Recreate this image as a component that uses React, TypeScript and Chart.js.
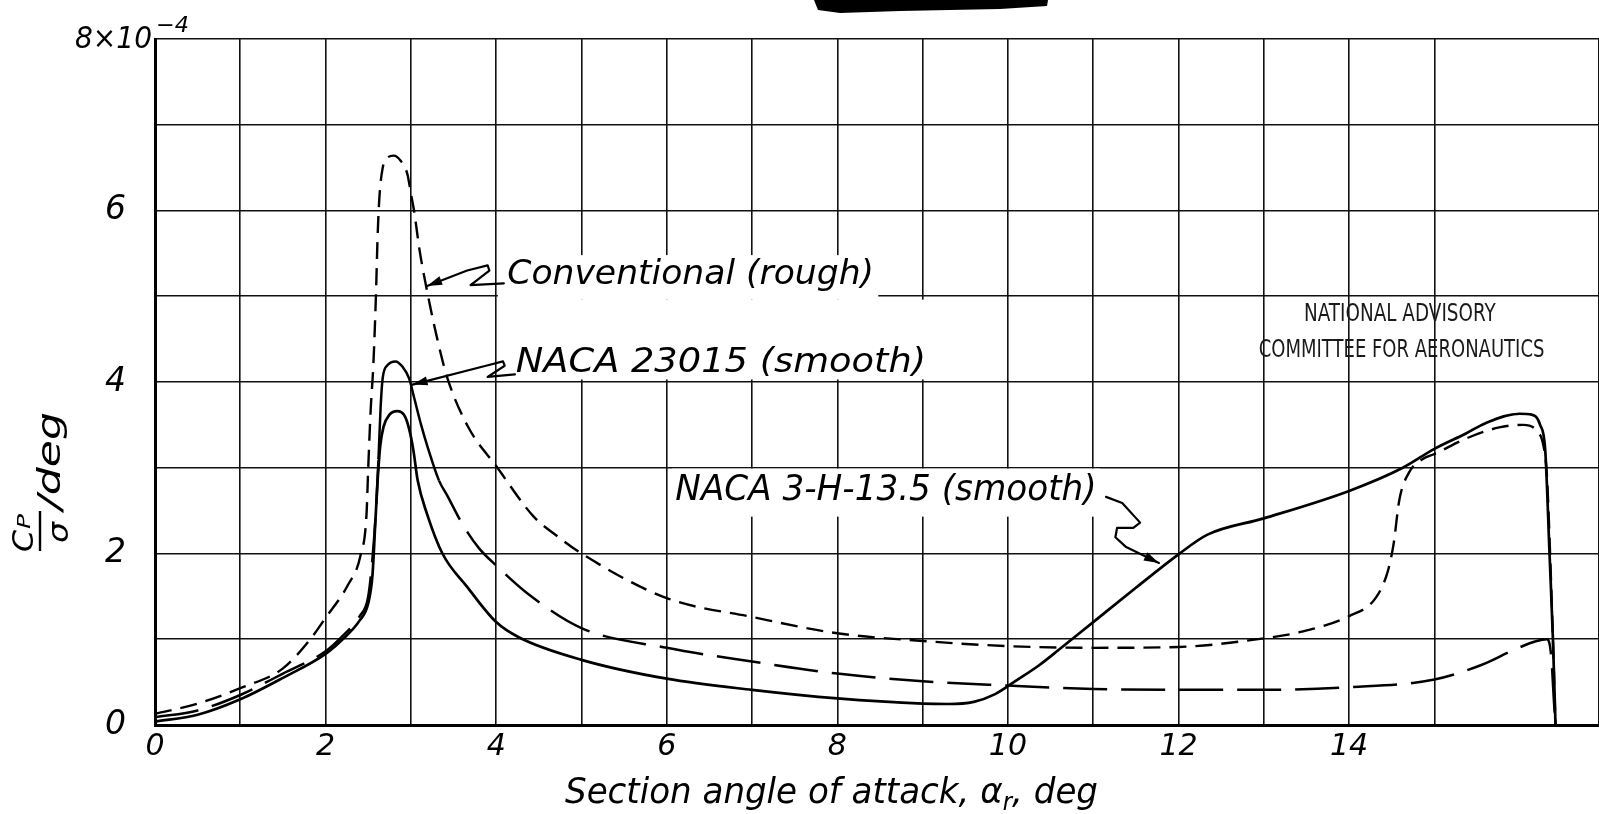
import React, { useEffect, useRef } from 'react';
import { Chart, registerables } from 'chart.js';

Chart.register(...registerables);

// Section angle of attack, deg
const conventionalAlpha = [0, 0.5, 1, 1.5, 1.82, 2, 2.26, 2.41, 2.48, 2.5, 2.53, 2.56, 2.59, 2.61, 2.63, 2.67, 2.73, 2.8, 2.88, 2.96, 3.0, 3.04, 3.1, 3.2, 3.31, 3.43, 3.68, 4, 4.44, 4.72, 5, 6, 7, 8, 9, 10, 11, 12, 13, 13.41, 14, 14.31, 14.45, 14.52, 14.59, 14.7, 14.86, 15, 15.37, 15.76, 16.04, 16.2, 16.28, 16.32, 16.36, 16.39, 16.42];
// Cp/sigma per deg, x10^-4
const conventionalCp = [0.13, 0.25, 0.43, 0.66, 1.0, 1.25, 1.63, 1.98, 2.46, 3.0, 3.7, 4.2, 5.0, 5.7, 6.14, 6.5, 6.62, 6.64, 6.58, 6.42, 6.2, 5.98, 5.55, 5.01, 4.5, 4.04, 3.46, 3.02, 2.43, 2.2, 2.0, 1.48, 1.26, 1.07, 0.98, 0.92, 0.9, 0.91, 1.01, 1.08, 1.27, 1.48, 1.78, 2.1, 2.63, 2.94, 3.1, 3.16, 3.34, 3.47, 3.5, 3.43, 3.25, 2.9, 1.9, 1.0, 0];

const naca23015Alpha = [0, 0.5, 1, 1.5, 2, 2.2, 2.4, 2.5, 2.55, 2.59, 2.62, 2.645, 2.67, 2.73, 2.82, 2.9, 2.98, 3.04, 3.12, 3.2, 3.33, 3.43, 3.6, 3.8, 4.0, 4.36, 5, 6, 7, 8, 9, 10, 11, 12, 13, 14, 15, 15.55, 15.94, 16.2, 16.32, 16.37, 16.4, 16.42];
const naca23015Cp = [0.09, 0.17, 0.35, 0.6, 0.86, 1.04, 1.27, 1.5, 1.95, 2.5, 3.1, 3.7, 4.05, 4.2, 4.24, 4.18, 4.04, 3.81, 3.5, 3.23, 2.85, 2.67, 2.35, 2.06, 1.86, 1.54, 1.13, 0.9, 0.74, 0.6, 0.51, 0.46, 0.42, 0.41, 0.41, 0.44, 0.53, 0.7, 0.88, 0.98, 1.0, 0.8, 0.3, 0];

const naca3H135Alpha = [0, 0.5, 1, 1.5, 2, 2.2, 2.4, 2.5, 2.55, 2.58, 2.61, 2.64, 2.68, 2.75, 2.84, 2.93, 2.98, 3.03, 3.08, 3.19, 3.37, 3.66, 4.0, 4.27, 5, 6, 7, 8, 9, 9.3, 9.6, 9.85, 10.1, 10.37, 10.6, 11, 11.5, 12, 12.34, 13, 14, 14.63, 15, 15.37, 15.6, 16, 16.14, 16.24, 16.3, 16.35, 16.39, 16.42];
const naca3H135Cp = [0.04, 0.12, 0.3, 0.55, 0.83, 1.0, 1.22, 1.42, 1.75, 2.3, 2.85, 3.25, 3.48, 3.62, 3.66, 3.6, 3.45, 3.2, 2.85, 2.46, 2.0, 1.61, 1.2, 1.02, 0.76, 0.54, 0.41, 0.31, 0.25, 0.245, 0.27, 0.36, 0.52, 0.7, 0.88, 1.2, 1.6, 1.99, 2.22, 2.41, 2.73, 3.0, 3.22, 3.4, 3.52, 3.63, 3.62, 3.5, 3.2, 2.0, 1.0, 0];

const seriesNames = ['Conventional (rough)', 'NACA 23015 (smooth)', 'NACA 3-H-13.5 (smooth)'];
const xTickValues = [0, 2, 4, 6, 8, 10, 12, 14, 16];
const yTickValues = [0, 2, 4, 6];
const yTopLabel = '8×10';
const yTopExponent = '−4';
const stampLines = ['NATIONAL ADVISORY', 'COMMITTEE FOR AERONAUTICS'];

const HAND = '"DejaVu Sans", "Liberation Sans", sans-serif';
const INK = '#000';

// Label placement in axis units (deg, value)
const labelBoxes = [
  { x0: 4.02, x1: 8.48, y0: 4.96, y1: 5.48 },
  { x0: 4.02, x1: 9.15, y0: 4.03, y1: 4.96 },
  { x0: 6.06, x1: 11.08, y0: 2.43, y1: 2.99 },
];
const labelSpots = [
  { x0: 4.13, x1: 8.43, y: 5.14, size: 33 },
  { x0: 4.23, x1: 9.04, y: 4.12, size: 33 },
  { x0: 6.1, x1: 11.04, y: 2.62, size: 36 },
];
// Leader lines, arrow tip first
const leaders: number[][][] = [
  [[3.19, 5.12], [3.66, 5.3], [3.9, 5.36], [3.92, 5.3], [3.7, 5.13], [4.09, 5.15]],
  [[3.02, 3.97], [3.88, 4.19], [4.08, 4.24], [4.1, 4.19], [3.9, 4.06], [4.22, 4.09]],
  [[11.77, 1.89], [11.38, 2.08], [11.26, 2.19], [11.28, 2.3], [11.47, 2.3], [11.55, 2.36], [11.34, 2.59], [11.15, 2.66]],
];
const stampSpots = [
  { x0: 13.47, x1: 15.72, y: 4.71 },
  { x0: 12.94, x1: 16.29, y: 4.29 },
];

const toPoints = (xs: number[], ys: number[]) => xs.map((x, i) => ({ x, y: ys[i] }));

function fitText(ctx: CanvasRenderingContext2D, text: string, left: number, right: number, baseline: number, font: string) {
  ctx.font = font;
  const w = ctx.measureText(text).width;
  ctx.save();
  ctx.translate(left, baseline);
  ctx.scale((right - left) / w, 1);
  ctx.textAlign = 'left';
  ctx.textBaseline = 'alphabetic';
  ctx.fillText(text, 0, 0);
  ctx.restore();
}

type Part = { t: string; s: number; dy: number };
function richText(ctx: CanvasRenderingContext2D, parts: Part[], left: number, right: number, baseline: number) {
  const widths = parts.map((p) => {
    ctx.font = `italic ${p.s}px ${HAND}`;
    return ctx.measureText(p.t).width;
  });
  const total = widths.reduce((a, b) => a + b, 0);
  ctx.save();
  ctx.translate(left, baseline);
  ctx.scale((right - left) / total, 1);
  ctx.textBaseline = 'alphabetic';
  ctx.textAlign = 'left';
  let x = 0;
  parts.forEach((p, i) => {
    ctx.font = `italic ${p.s}px ${HAND}`;
    ctx.fillText(p.t, x, p.dy);
    x += widths[i];
  });
  ctx.restore();
}

const annotations = {
  id: 'annotations',
  beforeDatasetsDraw(chart: any) {
    const ctx: CanvasRenderingContext2D = chart.ctx;
    const sx = chart.scales.x;
    const sy = chart.scales.y;
    const px = (v: number) => sx.getPixelForValue(v);
    const py = (v: number) => sy.getPixelForValue(v);
    ctx.save();
    ctx.fillStyle = '#fff';
    labelBoxes.forEach((b) => {
      ctx.fillRect(px(b.x0), py(b.y1), px(b.x1) - px(b.x0), py(b.y0) - py(b.y1));
    });
    ctx.fillStyle = INK;
    labelSpots.forEach((l, i) => {
      fitText(ctx, seriesNames[i], px(l.x0), px(l.x1), py(l.y), `italic ${l.size}px ${HAND}`);
    });
    ctx.fillStyle = '#1a1a1a';
    stampSpots.forEach((s, i) => {
      fitText(ctx, stampLines[i], px(s.x0), px(s.x1), py(s.y), `25px ${HAND}`);
    });
    ctx.restore();
  },
  afterDatasetsDraw(chart: any) {
    const ctx: CanvasRenderingContext2D = chart.ctx;
    const sx = chart.scales.x;
    const sy = chart.scales.y;
    const px = (v: number) => sx.getPixelForValue(v);
    const py = (v: number) => sy.getPixelForValue(v);
    ctx.save();
    ctx.strokeStyle = INK;
    ctx.fillStyle = INK;
    ctx.lineWidth = 2.2;
    ctx.lineJoin = 'round';
    ctx.lineCap = 'round';
    leaders.forEach((path) => {
      const pts = path.map(([a, b]) => [px(a), py(b)]);
      ctx.beginPath();
      ctx.moveTo(pts[0][0], pts[0][1]);
      for (let i = 1; i < pts.length; i++) ctx.lineTo(pts[i][0], pts[i][1]);
      ctx.stroke();
      const [tx, ty] = pts[0];
      const [bx, by] = pts[1];
      const len = Math.hypot(tx - bx, ty - by);
      const ux = (tx - bx) / len;
      const uy = (ty - by) / len;
      ctx.beginPath();
      ctx.moveTo(tx, ty);
      ctx.lineTo(tx - ux * 15 - uy * 4.5, ty - uy * 15 + ux * 4.5);
      ctx.lineTo(tx - ux * 15 + uy * 4.5, ty - uy * 15 - ux * 4.5);
      ctx.closePath();
      ctx.fill();
    });
    ctx.restore();
  },
  afterDraw(chart: any) {
    const ctx: CanvasRenderingContext2D = chart.ctx;
    const area = chart.chartArea;
    const sy = chart.scales.y;
    ctx.save();
    ctx.fillStyle = INK;

    // value scale multiplier at the top of the axis
    const topY = sy.getPixelForValue(8);
    fitText(ctx, yTopLabel, area.left - 80, area.left - 3, topY + 9, `italic 30px ${HAND}`);
    fitText(ctx, yTopExponent, area.left + 1, area.left + 34, topY - 7, `italic 22px ${HAND}`);

    // horizontal axis title
    richText(
      ctx,
      [
        { t: 'Section angle of attack, α', s: 36, dy: 0 },
        { t: 'r', s: 24, dy: 7 },
        { t: ', deg', s: 36, dy: 0 },
      ],
      565,
      1098,
      803
    );

    // vertical axis title: fraction Cp over sigma, then /deg
    ctx.save();
    ctx.translate(60, 552);
    ctx.rotate(-Math.PI / 2);
    fitText(ctx, 'C', 0, 22, -27, `italic 28px ${HAND}`);
    fitText(ctx, 'P', 23, 38, -30, `italic 18px ${HAND}`);
    ctx.strokeStyle = INK;
    ctx.lineWidth = 2.4;
    ctx.beginPath();
    ctx.moveTo(1, -20);
    ctx.lineTo(41, -20);
    ctx.stroke();
    fitText(ctx, 'σ', 9, 30, 8, `italic 28px ${HAND}`);
    fitText(ctx, '/deg', 42, 140, 0, `italic 32px ${HAND}`);
    ctx.restore();

    // ink mark along the top edge
    ctx.beginPath();
    ctx.moveTo(814, 0);
    ctx.lineTo(1048, 0);
    ctx.lineTo(1047, 6);
    ctx.lineTo(1000, 9);
    ctx.lineTo(900, 11);
    ctx.lineTo(840, 13);
    ctx.lineTo(818, 10);
    ctx.closePath();
    ctx.fill();
    ctx.restore();
  },
};

export default function App() {
  const canvasRef = useRef<HTMLCanvasElement | null>(null);

  useEffect(() => {
    const canvas = canvasRef.current;
    if (!canvas) return;
    const longDash = [44, 14];
    const chart = new Chart(canvas, {
      type: 'line',
      data: {
        datasets: [
          {
            label: seriesNames[0],
            data: toPoints(conventionalAlpha, conventionalCp),
            borderColor: INK,
            borderWidth: 2.4,
            borderDash: [17, 9],
            pointRadius: 0,
            fill: false,
            cubicInterpolationMode: 'monotone',
          },
          {
            label: seriesNames[1],
            data: toPoints(naca23015Alpha, naca23015Cp),
            borderColor: INK,
            borderWidth: 2.5,
            borderDash: longDash,
            pointRadius: 0,
            fill: false,
            cubicInterpolationMode: 'monotone',
            segment: {
              borderDash: (c: any) => (c.p0.parsed.x >= 2.62 && c.p1.parsed.x <= 3.34 ? [] : longDash),
            },
          },
          {
            label: seriesNames[2],
            data: toPoints(naca3H135Alpha, naca3H135Cp),
            borderColor: INK,
            borderWidth: 2.7,
            pointRadius: 0,
            fill: false,
            cubicInterpolationMode: 'monotone',
          },
        ],
      },
      options: {
        responsive: false,
        devicePixelRatio: 1,
        animation: false,
        events: [],
        layout: { padding: { top: 39, left: 0, right: 0, bottom: 0 } },
        plugins: {
          legend: { display: false },
          tooltip: { enabled: false },
          title: { display: false },
        },
        scales: {
          x: {
            type: 'linear',
            min: 0,
            max: 16.93,
            afterFit: (s: any) => {
              s.height = 89;
              s.paddingLeft = 0;
              s.paddingRight = 0;
            },
            grid: { color: '#111', lineWidth: 1.6, drawTicks: false },
            border: { color: INK, width: 3 },
            ticks: {
              stepSize: 1,
              autoSkip: false,
              maxRotation: 0,
              padding: 4,
              color: INK,
              font: { family: HAND, size: 30, style: 'italic' },
              callback: (v: any) => (xTickValues.includes(Number(v)) ? String(v) : ''),
            },
          },
          y: {
            type: 'linear',
            min: 0,
            max: 8,
            afterFit: (s: any) => {
              s.width = 155;
              s.paddingTop = 0;
              s.paddingBottom = 0;
            },
            grid: { color: '#111', lineWidth: 1.6, drawTicks: false },
            border: { color: INK, width: 3 },
            ticks: {
              stepSize: 1,
              autoSkip: false,
              padding: 29,
              color: INK,
              font: { family: HAND, size: 33, style: 'italic' },
              callback: (v: any) => (yTickValues.includes(Number(v)) ? String(v) : ''),
            },
          },
        },
      },
      plugins: [annotations],
    } as any);
    return () => chart.destroy();
  }, []);

  return (
    <div style={{ position: 'fixed', left: 0, top: 0, width: 1599, height: 814, background: '#fff' }}>
      <canvas ref={canvasRef} width={1599} height={814} style={{ display: 'block' }} />
    </div>
  );
}
